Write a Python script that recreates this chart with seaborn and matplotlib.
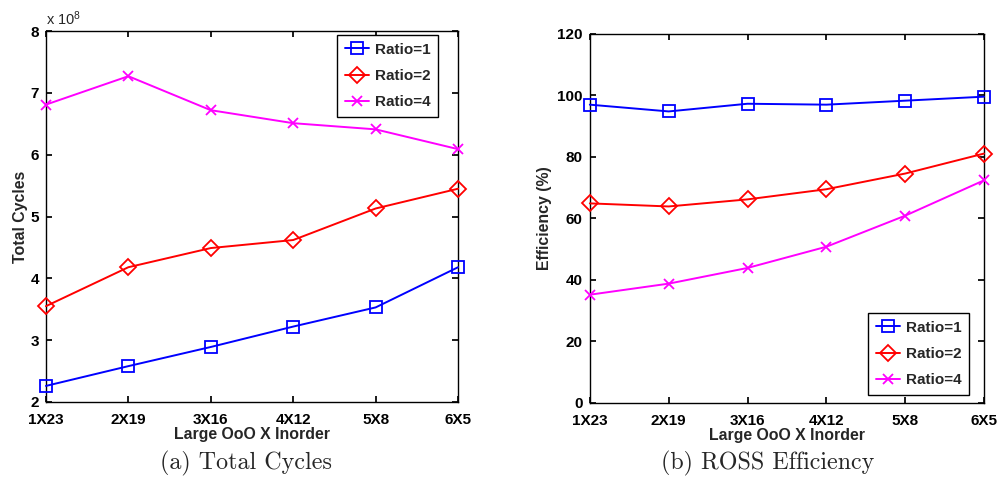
import numpy as np
import pandas as pd
import seaborn as sns
import matplotlib
matplotlib.use("Agg")
import matplotlib.pyplot as plt


configs = ["1X23", "2X19", "3X16", "4X12", "5X8", "6X5"]
ratios = ["Ratio=1", "Ratio=2", "Ratio=4"]

# total cycles, in units of 1e8
cycles_r1 = [2.26, 2.58, 2.89, 3.22, 3.53, 4.18]
cycles_r2 = [3.55, 4.18, 4.49, 4.62, 5.13, 5.45]
cycles_r4 = [6.81, 7.27, 6.72, 6.51, 6.41, 6.09]

# ROSS efficiency (%)
eff_r1 = [97.0, 94.8, 97.3, 97.0, 98.3, 99.6]
eff_r2 = [64.9, 63.9, 66.2, 69.5, 74.6, 81.1]
eff_r4 = [35.2, 38.8, 43.9, 50.8, 60.9, 72.4]

colors = ["#0000ff", "#ff0000", "#ff00ff"]
markers = ["s", "D", "x"]
msizes = [9, 8.5, 6.5]

sns.set_theme(style="white")
plt.rcParams.update({
    "font.family": ["Liberation Sans", "DejaVu Sans"],
    "font.weight": "bold",
    "axes.labelweight": "bold",
    "axes.edgecolor": "black",
    "axes.linewidth": 1.0,
    "xtick.direction": "in",
    "ytick.direction": "in",
    "xtick.top": True,
    "ytick.right": True,
    "xtick.bottom": True,
    "ytick.left": True,
    "xtick.major.size": 4,
    "ytick.major.size": 4,
    "xtick.color": "black",
    "ytick.color": "black",
    "xtick.labelsize": 11,
    "ytick.labelsize": 11,
    "axes.labelsize": 11.4,
    "mathtext.default": "regular",
})

fig = plt.figure(figsize=(9.98, 4.78), dpi=100)
ax1 = fig.add_axes([0.046, 0.159, 0.413, 0.776])
ax2 = fig.add_axes([0.591, 0.157, 0.395, 0.772])

legend_kw = dict(fancybox=False, framealpha=1, edgecolor="black",
                 handlelength=1.6, handletextpad=0.35, labelspacing=0.8,
                 borderpad=0.5, borderaxespad=0,
                 prop={"weight": "bold", "size": 11})


def draw(ax, series):
    for vals, lab, c, m, ms in zip(series, ratios, colors, markers, msizes):
        sns.lineplot(x=configs, y=vals, sort=False, color=c, marker=m,
                     markersize=ms, mfc="none", mec=c, mew=1.3, lw=1.4,
                     label=lab, clip_on=False, zorder=3, ax=ax)
    ax.set_xlim(0, len(configs) - 1)
    ax.set_xlabel("Large OoO X Inorder", labelpad=0)
    for t in ax.get_xticklabels() + ax.get_yticklabels():
        t.set_fontweight("bold")
    ax.tick_params(axis="x", pad=8)
    ax.tick_params(axis="y", pad=5)


draw(ax1, [cycles_r1, cycles_r2, cycles_r4])
ax1.set_ylim(2, 8)
ax1.set_yticks(np.arange(2, 9, 1))
ax1.set_ylabel("Total Cycles", labelpad=2)
ax1.text(0.0, 1.008, r"x 10$^{8}$", transform=ax1.transAxes, fontsize=10.5,
         fontweight="normal", ha="left", va="bottom")
leg1 = ax1.legend(loc="upper right", bbox_to_anchor=(0.951, 0.989), **legend_kw)
leg1.get_frame().set_linewidth(1.0)
leg1.set_zorder(5)

draw(ax2, [eff_r1, eff_r2, eff_r4])
ax2.set_ylim(0, 120)
ax2.set_yticks(np.arange(0, 121, 20))
ax2.set_ylabel("Efficiency (%)", labelpad=4)
leg2 = ax2.legend(loc="lower right", bbox_to_anchor=(0.962, 0.022), **legend_kw)
leg2.get_frame().set_linewidth(1.0)
leg2.set_zorder(5)

fig.text(0.246, 0.031, "(a) Total Cycles", family="cmr10", fontsize=17.3,
         fontweight="normal", ha="center", va="center")
fig.text(0.769, 0.031, "(b) ROSS Efficiency", family="cmr10", fontsize=17.3,
         fontweight="normal", ha="center", va="center")

fig.savefig("out.png", dpi=100)
